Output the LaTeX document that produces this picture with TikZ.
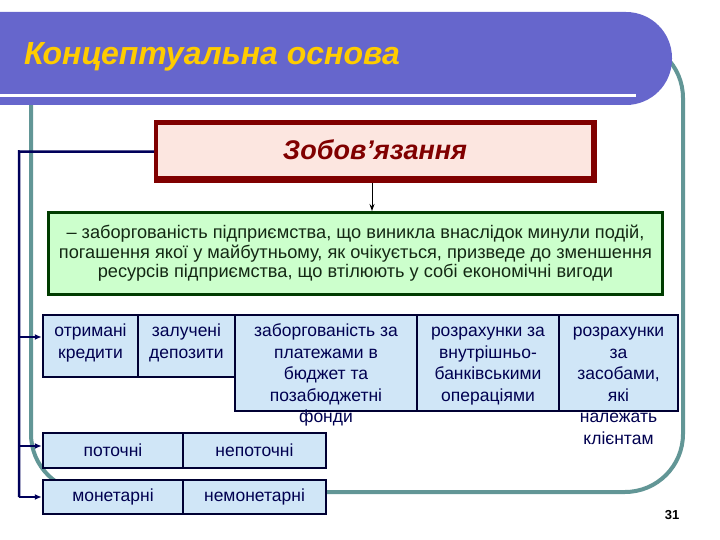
\documentclass[tikz,border=0pt]{standalone}
\usepackage{fontspec}
\setmainfont{Liberation Sans}
\usetikzlibrary{arrows.meta}
\definecolor{bannerc}{RGB}{102,102,204}
\definecolor{goldc}{RGB}{255,204,0}
\definecolor{framec}{RGB}{98,150,150}
\definecolor{dredc}{RGB}{128,0,0}
\definecolor{pinkc}{RGB}{252,230,224}
\definecolor{greenc}{RGB}{204,255,204}
\definecolor{dgreenc}{RGB}{0,60,0}
\definecolor{gtextc}{RGB}{20,40,20}
\definecolor{bluec}{RGB}{208,230,247}
\definecolor{navyc}{RGB}{0,0,51}
\definecolor{connc}{RGB}{0,0,90}
\definecolor{btextc}{RGB}{0,0,80}
\newcommand\tbox[2]{\parbox[t]{#1}{\fontsize{17.5}{21.5}\selectfont\centering #2}}
\tikzset{
  bluebox/.style={draw=navyc, line width=2.5pt, fill=bluec, inner sep=0pt},
  btxt/.style={text=btextc, inner sep=0pt, anchor=base},
  stxt/.style={text=btextc, inner sep=0pt, font=\fontsize{17.5}{21.5}\selectfont},
  connline/.style={connc, line width=2.5pt},
  arrowline/.style={connc, line width=2pt, -{Latex[length=7pt,width=6pt]}}
}
\begin{document}
\begin{tikzpicture}[x=1pt,y=-1pt]
\useasboundingbox (0,0) rectangle (720,540);
% frame
\draw[framec, line width=4pt, rounded corners=58pt, fill=white] (31,40) rectangle (683,492);
% banner
\fill[bannerc, rounded corners=46pt] (-80,12) rectangle (672,105);
\draw[white, line width=3.5pt] (-5,95.5) -- (636,95.5);
\node[anchor=base west, inner sep=0pt, text=goldc, font=\fontsize{32}{34}\selectfont\bfseries\itshape] (title) at (24,65) {Концептуальна основа};
% top box
\node[fill=dredc, minimum width=443pt, minimum height=63pt, inner sep=0pt, anchor=north west] (top) at (154,120) {};
\fill[pinkc] (158,125) rectangle (591,176);
\node[text=dredc, inner sep=0pt, font=\fontsize{27}{29}\selectfont\bfseries\itshape] (toplabel) at (375,150) {Зобов’язання};
% definition box
\node[draw=dgreenc, line width=3pt, fill=greenc, minimum width=614pt, minimum height=82pt, inner sep=0pt, align=center, text=gtextc, font=\fontsize{18.2}{19.5}\selectfont] (def) at (355.5,253.5)
 {– заборгованість підприємства, що виникла внаслідок минули подій,\\погашення якої у майбутньому, як очікується, призведе до зменшення\\ресурсів підприємства, що втілюють у собі економічні вигоди};
\coordinate (arrtop) at (372,183);
\draw[black, line width=1pt, -{Stealth[length=7pt,width=5pt]}] (arrtop) -- (arrtop |- def.north);
% row 1
\node[bluebox, minimum width=182pt, minimum height=96pt] (C) at (326,363) {};
\node[bluebox, minimum width=142pt, minimum height=96pt] (D) at (488,363) {};
\node[bluebox, minimum width=119pt, minimum height=96pt] (E) at (618.5,363) {};
\node[bluebox, minimum width=95pt, minimum height=62pt] (A) at (90.5,346) {};
\node[bluebox, minimum width=97pt, minimum height=62pt] (B) at (186.5,346) {};
\node[btxt] (At) at (90.5,336.5) {\tbox{92pt}{отримані\\кредити}};
\node[btxt] (Bt) at (186.5,336.5) {\tbox{92pt}{залучені\\депозити}};
\node[btxt] (Ct) at (326,336.5) {\tbox{178pt}{заборгованість за\\платежами в\\бюджет та\\позабюджетні\\фонди}};
\node[btxt] (Dt) at (488,336.5) {\tbox{140pt}{розрахунки за\\внутрішньо-\\банківськими\\операціями}};
\node[btxt] (Et) at (618.5,336.5) {\tbox{118pt}{розрахунки\\за\\засобами,\\які\\належать\\клієнтам}};
% row 2
\node[bluebox, minimum width=140pt, minimum height=35pt] (P) at (113,450.5) {};
\node[bluebox, minimum width=143pt, minimum height=35pt] (N) at (254.5,450.5) {};
\node[stxt] at (P.center) {поточні};
\node[stxt] at (N.center) {непоточні};
% row 3
\node[bluebox, minimum width=140pt, minimum height=34pt] (M) at (113,497) {};
\node[bluebox, minimum width=143pt, minimum height=34pt] (NM) at (254.5,497) {};
\node[stxt] at (M.center) {монетарні};
\node[stxt] at (NM.center) {немонетарні};
% connectors
\coordinate (corner) at (19,151.5);
\coordinate (b1) at (19,337);
\coordinate (b2) at (19,446);
\coordinate (b3) at (19,497);
\draw[connline] (top.west) -- (corner) -- (b3);
\draw[arrowline] (b1) -- (A.west |- b1);
\draw[arrowline] (b2) -- (P.west |- b2);
\draw[arrowline] (b3) -- (M.west |- b3);
% page number
\node[inner sep=0pt, font=\fontsize{13}{15}\selectfont\bfseries] (pg) at (672,515) {31};
\end{tikzpicture}
\end{document}
